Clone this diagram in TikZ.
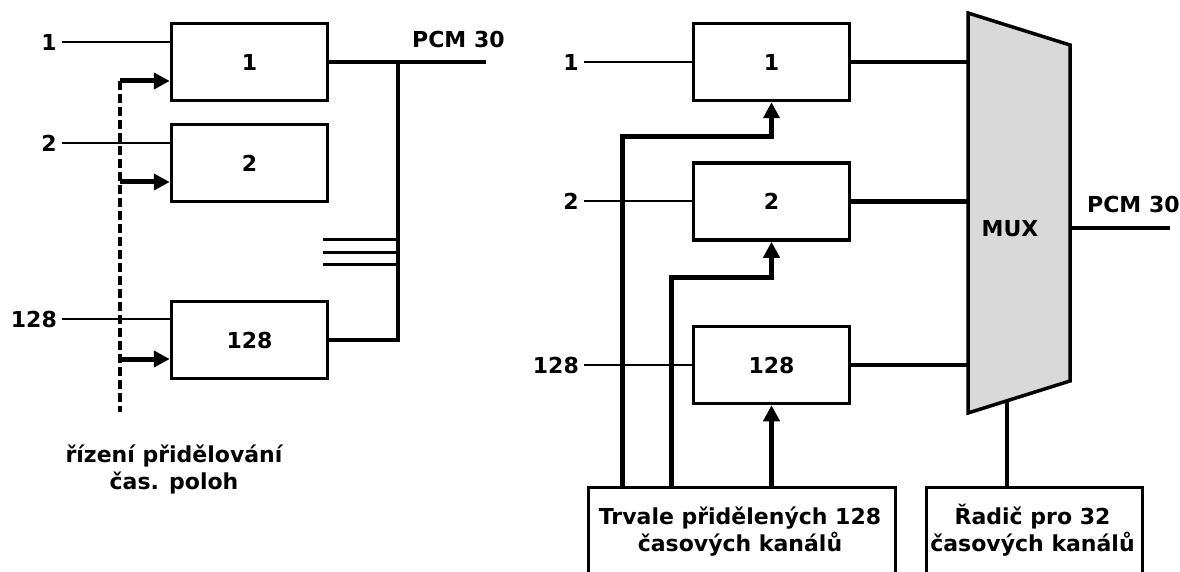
\documentclass[tikz,border=0pt]{standalone}
\usepackage{fontspec}
\setmainfont{DejaVu Sans}
\usetikzlibrary{arrows.meta}

\begin{document}
\begin{tikzpicture}[x=1pt, y=-1pt,
    lbl/.style={inner sep=0pt, font=\fontsize{22}{27}\selectfont\bfseries},
    chbox/.style={rectangle, draw, line width=3.5pt, minimum width=156pt,
                  minimum height=77pt, inner sep=0pt,
                  font=\fontsize{22}{27}\selectfont\bfseries},
    ctlframe/.style={rectangle, draw, line width=3.5pt, inner sep=0pt,
                     minimum height=120pt, anchor=north west},
    input/.style={line width=2.5pt},
    bus/.style={line width=4.5pt},
    ctrl/.style={line width=5pt, -{Triangle[length=16pt,width=16pt]}}
]
    \useasboundingbox (0,0) rectangle (1180,572);
    \clip (0,0) rectangle (1180,572);

    % left: bus variant
    \node[chbox] (L1) at (249.5,62) {1};
    \node[chbox] (L2) at (249.5,163) {2};
    \node[chbox] (L128) at (249.5,340) {128};

    \node[lbl, anchor=east] (li1) at (57,42) {1};
    \node[lbl, anchor=east] (li2) at (57,143) {2};
    \node[lbl, anchor=east] (li128) at (57,319) {128};
    \draw[input] (li1.east) ++(5,0) -- (li1 -| L1.west);
    \draw[input] (li2.east) ++(5,0) -- (li2 -| L2.west);
    \draw[input] (li128.east) ++(5,0) -- (li128 -| L128.west);

    \coordinate (dtop) at (120,81);
    \coordinate (dbot) at (120,412);
    \draw[line width=3.5pt, dash pattern=on 9pt off 4pt] (dtop) -- (dbot);
    \draw[ctrl] (dtop) -- (dtop -| L1.west);
    \draw[ctrl] (120,182) -- (L2.west |- 0,182);
    \draw[ctrl] (120,359) -- (L128.west |- 0,359);

    \coordinate (bustop) at (398,62);
    \coordinate (pcmL) at (486,62);
    \draw[bus] (L1.east) -- (pcmL);
    \draw[bus] (bustop) |- (L128.east);
    \foreach \y in {239,252,264}
        \draw[line width=3pt] (323,\y) -- (bustop |- 0,\y);
    \node[lbl, anchor=base west] (pcm1) at (412,48) {PCM 30};

    \node[lbl, align=center, anchor=base] (ctl) at (174,489)
        {řízení přidělování\\čas. poloh};

    % right: multiplexer variant
    \node[chbox] (R1) at (771.5,62) {1};
    \node[chbox] (R2) at (771.5,201.5) {2};
    \node[chbox] (R128) at (771.5,365) {128};

    \node[lbl, anchor=east] (ri1) at (579,62) {1};
    \node[lbl, anchor=east] (ri2) at (579,201) {2};
    \node[lbl, anchor=east] (ri128) at (579,365) {128};
    \draw[input] (ri1.east) ++(5,0) -- (R1.west);
    \draw[input] (ri2.east) ++(5,0) -- (ri2 -| R2.west);
    \draw[input] (ri128.east) ++(5,0) -- (R128.west);

    \coordinate (mtl) at (968,13);
    \coordinate (mtr) at (1070,45);
    \coordinate (mbr) at (1070,381);
    \coordinate (mbl) at (968,413);
    \draw[line width=3.5pt, fill={rgb,255:red,217;green,217;blue,217}]
        (mtl) -- (mtr) -- (mbr) -- (mbl) -- cycle;
    \node[lbl] (mux) at (1010,229) {MUX};

    \draw[bus] (R1.east) -- (R1.east -| mtl);
    \draw[bus] (R2.east) -- (R2.east -| mtl);
    \draw[bus] (R128.east) -- (R128.east -| mtl);

    \coordinate (pcmR) at (1170,228);
    \draw[bus] (pcmR -| mtr) -- (pcmR);
    \node[lbl, anchor=base west] (pcm2) at (1087,212) {PCM 30};

    \node[ctlframe, minimum width=307pt] (perm) at (586.5,485.5) {};
    \node[lbl, align=center, anchor=base] (permtxt) at (740,551)
        {Trvale přidělených 128\\časových kanálů};
    \node[ctlframe, minimum width=216pt] (rad) at (924.5,485.5) {};
    \node[lbl, align=center, anchor=base] (radtxt) at (1032.5,551)
        {Řadič pro 32\\časových kanálů};

    \draw[ctrl] (622,485.5) |- (722,137) -| (R1.south);
    \draw[ctrl] (671,485.5) |- (722,277) -| (R2.south);
    \draw[ctrl] (R128.south |- perm.north) -- (R128.south);

    \coordinate (msel) at (1007,400);
    \draw[bus] (msel) -- (msel |- rad.north);
\end{tikzpicture}
\end{document}
